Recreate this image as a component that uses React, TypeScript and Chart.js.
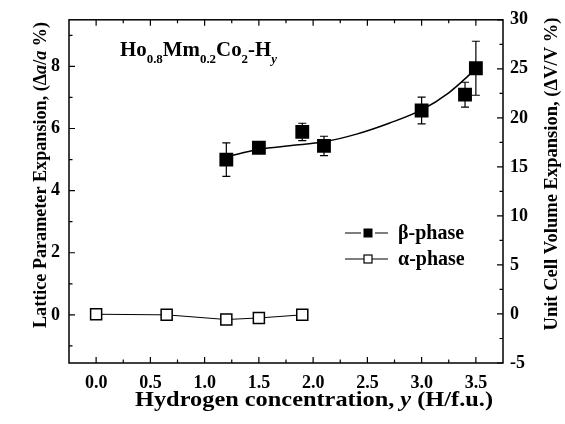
import React, { useEffect, useRef } from "react";
import { Chart, registerables } from "chart.js";
Chart.register(...registerables);

// beta-phase measurements (left axis, %)
const betaX = [1.2, 1.5, 1.9, 2.1, 3.0, 3.4, 3.5];
const betaY = [5.0, 5.38, 5.89, 5.44, 6.58, 7.09, 7.94];
const betaErr = [0.54, 0, 0.28, 0.31, 0.43, 0.4, 0.87];

// fitted curve through beta data
const fitX = [1.2, 1.5, 1.8, 2.1, 2.4, 2.7, 3.0, 3.25, 3.5];
const fitY = [5.08, 5.33, 5.45, 5.57, 5.82, 6.17, 6.6, 7.15, 7.92];

// alpha-phase measurements
const alphaX = [0.0, 0.65, 1.2, 1.5, 1.9];
const alphaY = [0.02, 0.0, -0.15, -0.1, 0.0];

// ticks
const xMajor = [0, 0.5, 1.0, 1.5, 2.0, 2.5, 3.0, 3.5];
const xMinor = [0.25, 0.75, 1.25, 1.75, 2.25, 2.75, 3.25];
const yLeftMajor = [0, 2, 4, 6, 8];
const yLeftMinor = [-1, 1, 3, 5, 7, 9];
const yRightMajor = [-5, 0, 5, 10, 15, 20, 25, 30];
const yRightMinor = [-2.5, 2.5, 7.5, 12.5, 17.5, 22.5, 27.5];

const legendLabels = ["\u03B2-phase", "\u03B1-phase"];
const FONT = "'Liberation Serif', 'DejaVu Serif', serif";

type Seg = { t: string; size: number; italic?: boolean; dy?: number };

function drawSegs(
  ctx: CanvasRenderingContext2D,
  segs: Seg[],
  x: number,
  y: number,
  align: "left" | "center",
  fitWidth?: number
) {
  const fontOf = (s: Seg) => `${s.italic ? "italic " : ""}bold ${s.size}px ${FONT}`;
  let total = 0;
  for (const s of segs) {
    ctx.font = fontOf(s);
    total += ctx.measureText(s.t).width;
  }
  const sx = fitWidth ? fitWidth / total : 1;
  ctx.save();
  ctx.translate(x, y);
  ctx.scale(sx, 1);
  let cx = align === "center" ? -total / 2 : 0;
  for (const s of segs) {
    ctx.font = fontOf(s);
    ctx.fillText(s.t, cx, s.dy || 0);
    cx += ctx.measureText(s.t).width;
  }
  ctx.restore();
}

const decorPlugin = {
  id: "decor",
  beforeDatasetsDraw(chart: any) {
    const ctx = chart.ctx as CanvasRenderingContext2D;
    const xs = chart.scales.x;
    const ys = chart.scales.y;
    ctx.save();
    ctx.strokeStyle = "#000";
    ctx.lineWidth = 1.2;
    for (let i = 0; i < betaX.length; i++) {
      if (!betaErr[i]) continue;
      const px = xs.getPixelForValue(betaX[i]);
      const top = ys.getPixelForValue(betaY[i] + betaErr[i]);
      const bot = ys.getPixelForValue(betaY[i] - betaErr[i]);
      ctx.beginPath();
      ctx.moveTo(px, top);
      ctx.lineTo(px, bot);
      ctx.moveTo(px - 4, top);
      ctx.lineTo(px + 4, top);
      ctx.moveTo(px - 4, bot);
      ctx.lineTo(px + 4, bot);
      ctx.stroke();
    }
    ctx.restore();
  },
  afterDraw(chart: any) {
    const ctx = chart.ctx as CanvasRenderingContext2D;
    const a = chart.chartArea;
    const xs = chart.scales.x;
    const ys = chart.scales.y;
    const y2 = chart.scales.y2;
    ctx.save();
    ctx.strokeStyle = "#000";
    ctx.fillStyle = "#000";
    // frame
    ctx.lineWidth = 1.5;
    ctx.strokeRect(a.left, a.top, a.right - a.left, a.bottom - a.top);
    // ticks (inward)
    ctx.lineWidth = 1.2;
    ctx.beginPath();
    const maj = 6, min = 3.5;
    for (const v of xMajor) {
      const p = xs.getPixelForValue(v);
      ctx.moveTo(p, a.bottom); ctx.lineTo(p, a.bottom - maj);
      ctx.moveTo(p, a.top); ctx.lineTo(p, a.top + maj);
    }
    for (const v of xMinor) {
      const p = xs.getPixelForValue(v);
      ctx.moveTo(p, a.bottom); ctx.lineTo(p, a.bottom - min);
      ctx.moveTo(p, a.top); ctx.lineTo(p, a.top + min);
    }
    for (const v of yLeftMajor) {
      const p = ys.getPixelForValue(v);
      ctx.moveTo(a.left, p); ctx.lineTo(a.left + maj, p);
    }
    for (const v of yLeftMinor) {
      const p = ys.getPixelForValue(v);
      ctx.moveTo(a.left, p); ctx.lineTo(a.left + min, p);
    }
    for (const v of yRightMajor) {
      const p = y2.getPixelForValue(v);
      ctx.moveTo(a.right, p); ctx.lineTo(a.right - maj, p);
    }
    for (const v of yRightMinor) {
      const p = y2.getPixelForValue(v);
      ctx.moveTo(a.right, p); ctx.lineTo(a.right - min, p);
    }
    ctx.stroke();

    // axis titles
    ctx.textBaseline = "middle";
    ctx.textAlign = "left";
    drawSegs(ctx, [
      { t: "Hydrogen concentration, ", size: 21 },
      { t: "y", size: 21, italic: true },
      { t: " (H/f.u.)", size: 21 },
    ], 314, 401, "center", 358);

    ctx.save();
    ctx.translate(41, 175);
    ctx.rotate(-Math.PI / 2);
    drawSegs(ctx, [
      { t: "Lattice Parameter Expansion, (\u0394", size: 18 },
      { t: "a", size: 18, italic: true },
      { t: "/", size: 18 },
      { t: "a", size: 18, italic: true },
      { t: " %)", size: 18 },
    ], 0, 0, "center", 306);
    ctx.restore();

    ctx.save();
    ctx.translate(552, 174);
    ctx.rotate(-Math.PI / 2);
    drawSegs(ctx, [{ t: "Unit Cell Volume Expansion, (\u0394V/V %)", size: 18 }], 0, 0, "center", 313);
    ctx.restore();

    // compound label
    ctx.textBaseline = "alphabetic";
    const lx = xs.getPixelForValue(0.22);
    const ly = ys.getPixelForValue(8.35);
    drawSegs(ctx, [
      { t: "Ho", size: 21 },
      { t: "0.8", size: 13, dy: 7 },
      { t: "Mm", size: 21 },
      { t: "0.2", size: 13, dy: 7 },
      { t: "Co", size: 21 },
      { t: "2", size: 13, dy: 7 },
      { t: "-H", size: 21 },
      { t: "y", size: 13, italic: true, dy: 7 },
    ], lx, ly, "left", 157);

    // legend
    const rows = [233, 259];
    const lineL = 345, lineR = 388, mx = 368;
    ctx.textBaseline = "middle";
    rows.forEach((ry, i) => {
      ctx.lineWidth = 1.2;
      ctx.beginPath();
      if (i === 0) {
        ctx.moveTo(lineL, ry); ctx.lineTo(mx - 7, ry);
        ctx.moveTo(mx + 7, ry); ctx.lineTo(lineR, ry);
      } else {
        ctx.moveTo(lineL, ry); ctx.lineTo(lineR, ry);
      }
      ctx.stroke();
      if (i === 0) {
        ctx.fillRect(mx - 4.5, ry - 4.5, 9, 9);
      } else {
        ctx.fillStyle = "#fff";
        ctx.fillRect(mx - 4, ry - 4, 8, 8);
        ctx.fillStyle = "#000";
        ctx.lineWidth = 1.2;
        ctx.strokeRect(mx - 4, ry - 4, 8, 8);
      }
      drawSegs(ctx, [{ t: legendLabels[i], size: 20 }], 398, ry + 1, "left");
    });
    ctx.restore();
  },
};

export default function App() {
  const ref = useRef<HTMLCanvasElement | null>(null);
  useEffect(() => {
    document.body.style.margin = "0";
    const canvas = ref.current!;
    const tickFont = { family: FONT, size: 18, weight: "bold" as const };
    const chart = new Chart(canvas, {
      type: "scatter",
      data: {
        datasets: [
          {
            label: "beta",
            data: betaX.map((x, i) => ({ x, y: betaY[i] })),
            pointStyle: "rect",
            pointRadius: 9.8,
            backgroundColor: "#000",
            borderColor: "#000",
            borderWidth: 0,
            showLine: false,
            yAxisID: "y",
          },
          {
            label: "fit",
            data: fitX.map((x, i) => ({ x, y: fitY[i] })),
            showLine: true,
            pointRadius: 0,
            borderColor: "#000",
            borderWidth: 1.5,
            cubicInterpolationMode: "monotone",
            yAxisID: "y",
          },
          {
            label: "alpha",
            data: alphaX.map((x, i) => ({ x, y: alphaY[i] })),
            showLine: true,
            pointStyle: "rect",
            pointRadius: 7.8,
            pointBackgroundColor: "#fff",
            pointBorderColor: "#000",
            pointBorderWidth: 1.5,
            borderColor: "#000",
            borderWidth: 1,
            yAxisID: "y",
          },
        ],
      },
      options: {
        responsive: false,
        animation: false,
        devicePixelRatio: 1,
        layout: { padding: { top: 14, left: 0, right: 0, bottom: 0 } },
        plugins: { legend: { display: false }, tooltip: { enabled: false } },
        scales: {
          x: {
            type: "linear",
            position: "bottom",
            min: -0.25,
            max: 3.75,
            afterBuildTicks: (s: any) => { s.ticks = xMajor.map((v) => ({ value: v })); },
            afterFit: (s: any) => { s.height = 61; },
            grid: { display: false, drawTicks: false },
            border: { display: false },
            ticks: { color: "#000", font: tickFont, padding: 10, callback: (v: any) => Number(v).toFixed(1), maxRotation: 0, autoSkip: false },
          },
          y: {
            type: "linear",
            position: "left",
            min: -1.55,
            max: 9.5,
            afterBuildTicks: (s: any) => { s.ticks = yLeftMajor.map((v) => ({ value: v })); },
            afterFit: (s: any) => { s.width = 69; },
            grid: { display: false, drawTicks: false },
            border: { display: false },
            ticks: { color: "#000", font: tickFont, padding: 9, autoSkip: false },
          },
          y2: {
            type: "linear",
            position: "right",
            min: -5,
            max: 30,
            afterBuildTicks: (s: any) => { s.ticks = yRightMajor.map((v) => ({ value: v })); },
            afterFit: (s: any) => { s.width = 62; },
            grid: { display: false, drawTicks: false },
            border: { display: false },
            ticks: { color: "#000", font: tickFont, padding: 7, autoSkip: false },
          },
        },
      } as any,
      plugins: [decorPlugin],
    });
    return () => chart.destroy();
  }, []);
  return (
    <div style={{ width: 565, height: 424, background: "#fff" }}>
      <canvas ref={ref} width={565} height={424} style={{ display: "block" }} />
    </div>
  );
}
